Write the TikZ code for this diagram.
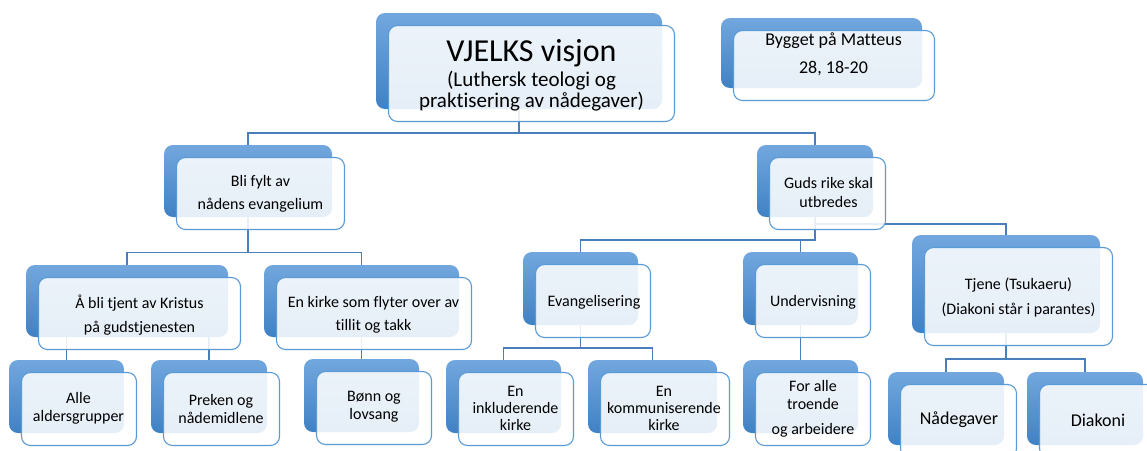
\documentclass[tikz,border=0pt]{standalone}
\usepackage{fontspec}
\setmainfont[Ligatures={CommonOff}]{Carlito}
\usetikzlibrary{calc}
\definecolor{bktop}{RGB}{114,167,222}
\definecolor{bkbot}{RGB}{64,129,196}
\definecolor{frline}{RGB}{91,155,213}
\definecolor{wirecol}{RGB}{74,126,187}
\pgfdeclarelayer{bg}
\pgfsetlayers{bg,main}
\tikzset{
  backbox/.style={rounded corners=9pt, top color=bktop, bottom color=bkbot, draw=none, inner sep=0pt},
  frontbox/.style={rounded corners=9pt, draw=frline, line width=1.1pt, fill=white, fill opacity=0.87, text opacity=1, inner sep=0pt},
  lbl/.style={align=center, text=black, inner sep=0pt},
  wire/.style={draw=wirecol, line width=1.2pt},
  fA/.style={font=\fontsize{16}{23}\selectfont},
  fB/.style={font=\fontsize{16}{18}\selectfont},
  fC/.style={font=\fontsize{18}{22}\selectfont},
}
\newcommand\mkbox[5]{%
  \node[backbox, minimum width={#4-#2}, minimum height={#5-#3}] (#1b) at ({(#2+#4)/2},{(#3+#5)/2}) {};
  \node[frontbox, minimum width={#4-#2}, minimum height={#5-#3}] (#1f) at ({(#2+#4)/2+12.5},{(#3+#5)/2+12.5}) {};
}
\begin{document}
\begin{tikzpicture}[x=1pt,y=-1pt]
\useasboundingbox (0,0) rectangle (1147,450);
\clip (0,0) rectangle (1147,450);
% boxes
\mkbox{vis}{376}{13}{662}{109}
\mkbox{byg}{721}{18}{922}{88}
\mkbox{bli}{164}{145}{332}{217}
\mkbox{gud}{757}{145}{873}{217}
\mkbox{abl}{26}{265}{228}{337}
\mkbox{kir}{264}{265}{459}{337}
\mkbox{eva}{523}{252}{638}{325}
\mkbox{und}{743}{252}{858}{325}
\mkbox{tje}{912}{235}{1100}{333}
\mkbox{all}{9}{360}{124}{433}
\mkbox{pre}{151}{360}{267}{433}
\mkbox{bon}{304}{359}{419}{432}
\mkbox{ink}{446}{360}{561}{433}
\mkbox{kom}{588}{360}{717}{433}
\mkbox{for}{743}{360}{858}{433}
\mkbox{nad}{888}{372}{1004}{445}
\mkbox{dia}{1027}{372}{1143}{445}
% texts
\node[lbl, font=\fontsize{21}{21.5}\selectfont] (vist) at (531.5,75.5) {{\fontsize{32}{32}\selectfont VJELKS visjon}\\[3pt](Luthersk teologi og\\praktisering av nådegaver)};
\node[lbl, font=\fontsize{18}{28}\selectfont] (bygt) at (833.5,54.5) {Bygget på Matteus\\28, 18-20};
\node[lbl, fA] (blit) at (260.5,193.5) {Bli fylt av\\nådens evangelium};
\node[lbl, font=\fontsize{16}{19.5}\selectfont] (gudt) at (828.5,192.5) {Guds rike skal\\utbredes};
\node[lbl, font=\fontsize{16}{24}\selectfont] (ablt) at (139.5,315) {Å bli tjent av Kristus\\på gudstjenesten};
\node[lbl, fA] (kirt) at (373.5,315) {En kirke som flyter over av\\tillit og takk};
\node[lbl, fA] (evat) at (594,302) {Evangelisering};
\node[lbl, fA] (undt) at (813,302) {Undervisning};
\node[lbl, font=\fontsize{16}{25}\selectfont] (tjet) at (1018.5,297.5) {Tjene (Tsukaeru)\\(Diakoni står i parantes)};
\node[lbl, fB] (allt) at (78.5,408.5) {Alle\\aldersgrupper};
\node[lbl, fB] (pret) at (221,408.5) {Preken og\\nådemidlene};
\node[lbl, fB] (bont) at (374,406.5) {Bønn og\\lovsang};
\node[lbl, font=\fontsize{16}{17}\selectfont] (inkt) at (515.5,408.5) {En\\inkluderende\\kirke};
\node[lbl, font=\fontsize{16}{17}\selectfont] (komt) at (664,408.5) {En\\kommuniserende\\kirke};
\node[lbl, font=\fontsize{16}{18}\selectfont] (fort) at (813,408.5) {For alle\\troende\\[7pt]og arbeidere};
\node[lbl, fC] (nadt) at (959,420) {Nådegaver};
\node[lbl, fC] (diat) at (1098,420) {Diakoni};
% connectors
\begin{pgfonlayer}{bg}
\fill[white] (0,0) rectangle (1147,450);
\coordinate (r1) at (0,133);
\coordinate (r2) at (0,252.5);
\coordinate (r3) at (0,240);
\coordinate (r3b) at (0,224);
\coordinate (r4) at (0,334);
\coordinate (r5) at (0,348);
\coordinate (r6) at (0,359);
\draw[wire] (visb.south) -- (visb.south |- r1) -| (blib.north);
\draw[wire] (visb.south |- r1) -| (gudb.north);
\draw[wire] (blib.south) -- (blib.south |- r2) -| (ablb.north);
\draw[wire] (blib.south |- r2) -| (kirb.north);
\draw[wire] (gudb.south) -- (gudb.south |- r3) -| (evab.north);
\draw[wire] (gudb.south |- r3) -| (undb.north);
\draw[wire] (gudb.south |- r3b) -| (tjeb.north);
\draw[wire] (ablb.south) -- (ablb.south |- r4) -| (allb.north);
\draw[wire] (ablb.south |- r4) -| (preb.north);
\draw[wire] (kirb.south) -- (bonb.north);
\draw[wire] (evab.south) -- (evab.south |- r5) -| (inkb.north);
\draw[wire] (evab.south |- r5) -| (komb.north);
\draw[wire] (undb.south) -- (forb.north);
\draw[wire] (tjeb.south) -- (tjeb.south |- r6) -| (nadb.north);
\draw[wire] (tjeb.south |- r6) -| (diab.north);
\end{pgfonlayer}
\end{tikzpicture}
\end{document}
